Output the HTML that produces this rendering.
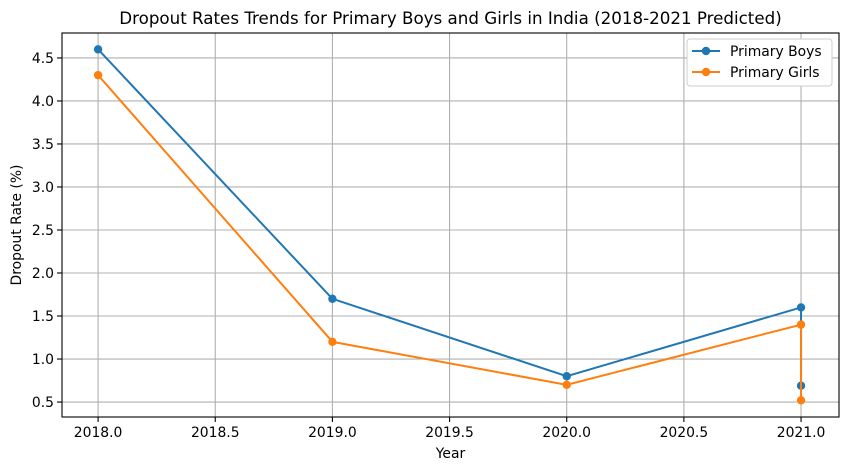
<!DOCTYPE html>
<html><head><meta charset="utf-8"><style>
body{margin:0;background:#fff;font-family:"Liberation Sans","DejaVu Sans",sans-serif;}
svg text{font-family:"DejaVu Sans","Liberation Sans",sans-serif;}
</style></head><body>
<svg id="chart" width="846" height="470" xmlns="http://www.w3.org/2000/svg"></svg>
<script>
const years=[2018,2019,2020,2021,2021];
const boys=[4.6,1.7,0.8,1.6,0.69];
const girls=[4.3,1.2,0.7,1.4,0.52];
const xTicks=[2018.0,2018.5,2019.0,2019.5,2020.0,2020.5,2021.0];
const yTicks=[0.5,1.0,1.5,2.0,2.5,3.0,3.5,4.0,4.5];
const L=62,R=839,T=33,B=417;
const xMin=2017.846,xMax=2021.162,yMin=0.326,yMax=4.79;
const sx=v=>L+(v-xMin)/(xMax-xMin)*(R-L);
const sy=v=>B-(v-yMin)/(yMax-yMin)*(B-T);
const svg=document.getElementById('chart');
const NS='http://www.w3.org/2000/svg';
function mk(t,a,p){const e=document.createElementNS(NS,t);for(const k in a)e.setAttribute(k,a[k]);(p||svg).appendChild(e);return e;}
xTicks.forEach(v=>{const x=sx(v);
const g=mk('line',{x1:x,x2:x,y1:T,y2:B,stroke:'#b0b0b0','stroke-width':1.1});

mk('line',{x1:x,x2:x,y1:B,y2:B+5,stroke:'#000','stroke-width':1.1});
const t=mk('text',{x:x,y:B+20,'text-anchor':'middle','font-size':13.9});t.textContent=v.toFixed(1);
});
yTicks.forEach(v=>{const y=sy(v);
const g=mk('line',{x1:L,x2:R,y1:y,y2:y,stroke:'#b0b0b0','stroke-width':1.1});

mk('line',{x1:L-5,x2:L,y1:y,y2:y,stroke:'#000','stroke-width':1.1});
const t=mk('text',{x:L-8,y:y+5,'text-anchor':'end','font-size':13.9});t.textContent=v.toFixed(1);
});
const fr=mk('rect',{x:L,y:T,width:R-L,height:B-T,fill:'none',stroke:'#000','stroke-width':1.1});

function series(vals,color,name){
const p=mk('polyline',{points:vals.map((v,i)=>sx(years[i])+','+sy(v)).join(' '),fill:'none',stroke:color,'stroke-width':2});

vals.forEach((v,i)=>{const c=mk('circle',{cx:sx(years[i]),cy:sy(v),r:4.2,fill:color});
});}
series(boys,'#1f77b4','boys');
series(girls,'#ff7f0e','girls');
const tt=mk('text',{x:(L+R)/2,y:24,'text-anchor':'middle','font-size':16.7});tt.textContent='Dropout Rates Trends for Primary Boys and Girls in India (2018-2021 Predicted)';

const xl=mk('text',{x:(L+R)/2,y:458,'text-anchor':'middle','font-size':13.9});xl.textContent='Year';

const yl=mk('text',{x:21,y:(T+B)/2,'text-anchor':'middle','font-size':13.9,transform:'rotate(-90 21 '+((T+B)/2)+')'});yl.textContent='Dropout Rate (%)';

const lg=mk('g',{});
mk('rect',{x:687,y:39,width:145,height:47,rx:3,fill:'#fff',stroke:'#ccc','stroke-width':1},lg);
[['Primary Boys','#1f77b4',56],['Primary Girls','#ff7f0e',77]].forEach(([n,c,y])=>{
const e=mk('g',{},lg);
mk('line',{x1:692,x2:720,y1:y-5,y2:y-5,stroke:c,'stroke-width':2},e);
mk('circle',{cx:706,cy:y-5,r:4.2,fill:c},e);
const t=mk('text',{x:730,y:y,'font-size':13.9},e);t.textContent=n;});
</script>
</body></html>
